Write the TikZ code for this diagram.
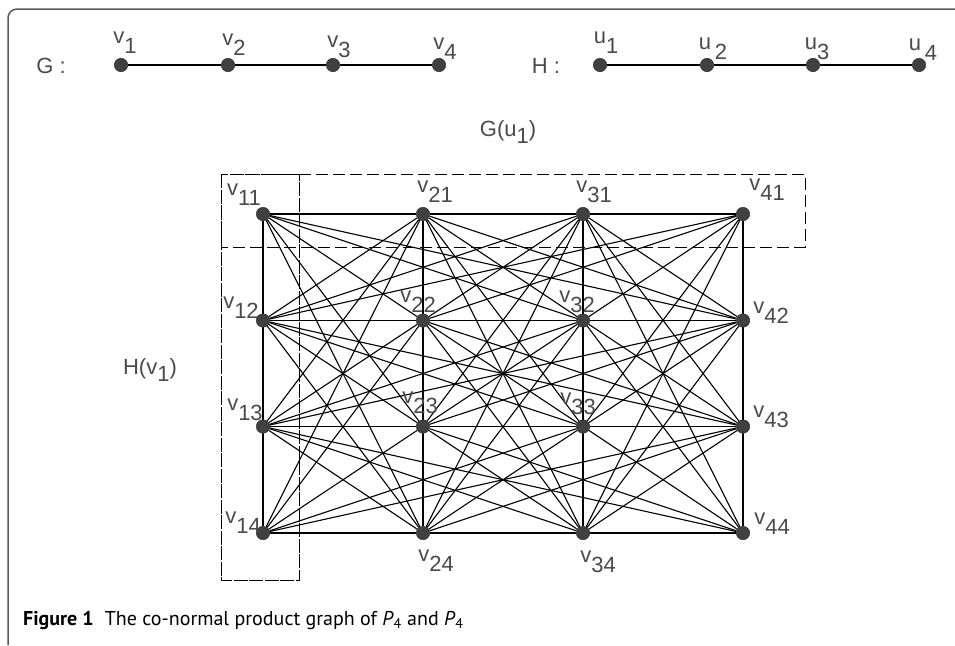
\documentclass[tikz,border=0pt]{standalone}
\usepackage{fontspec}
\setmainfont{Liberation Sans}
\newfontfamily\capfont{PT Sans}
\usetikzlibrary{backgrounds}
\definecolor{txt}{HTML}{4A4A4A}
\definecolor{dotc}{HTML}{404040}
\newcommand\sublbl[2]{#1\raisebox{-0.45em}{#2}}
\begin{document}
\begin{tikzpicture}[x=1pt,y=-1pt,
  vtx/.style={circle,fill=dotc,draw=black!85,line width=0.4pt,inner sep=0pt,minimum size=13.5pt},
  lbl/.style={text=txt,font=\fontsize{22}{26}\selectfont,inner sep=0pt},
  edge/.style={black,line width=1.1pt},
  frame/.style={black!65,line width=1.5pt,rounded corners=9pt},
  vbox/.style={black,line width=1pt,dash pattern=on 14pt off 1.5pt},
  hbox/.style={black,line width=1pt,dash pattern=on 12pt off 5pt}]
\useasboundingbox (0,0) rectangle (955,645);
\draw[frame] (8,645) -- (8,9) -- (955,9);

% paths G and H
\foreach \i/\x in {1/121,2/228,3/333,4/439} \node[vtx] (g\i) at (\x,65) {};
\foreach \i/\x in {1/600,2/707,3/813,4/919} \node[vtx] (h\i) at (\x,65) {};

% product vertices
\foreach \i/\x in {1/263,2/423,3/583,4/743}
  \foreach \j/\y in {1/214,2/320.5,3/426.5,4/533}
    \node[vtx] (v\i\j) at (\x,\y) {};

\begin{pgfonlayer}{background}
\draw[edge] (g1) -- (g2) -- (g3) -- (g4);
\draw[edge] (h1) -- (h2) -- (h3) -- (h4);
\foreach \i in {1,...,4}
 \foreach \j in {1,...,4}
  \foreach \k in {1,...,4}
   \foreach \l in {1,...,4}{
     \pgfmathtruncatemacro\ok{and(or(abs(\i-\k)==1,abs(\j-\l)==1),(10*\i+\j)<(10*\k+\l))}
     \ifnum\ok=1 \draw[edge] (v\i\j) -- (v\k\l);\fi
   }
\end{pgfonlayer}

% dashed boxes
\draw[vbox] (221,174) rectangle (299,580);
\draw[hbox] (221,174) rectangle (805,247);

% path labels
\node[lbl] (lG) at (51,66) {G :};
\node[lbl] (lH) at (546,66) {H :};
\node[lbl] (lg1) at (125,43) {\sublbl{v}{1}};
\node[lbl] (lg2) at (234,45) {\sublbl{v}{2}};
\node[lbl] (lg3) at (339,47) {\sublbl{v}{3}};
\node[lbl] (lg4) at (445,49) {\sublbl{v}{4}};
\node[lbl] (lh1) at (606,43) {\sublbl{u}{1}};
\node[lbl] (lh2) at (713,49) {\sublbl{u\,}{2}};
\node[lbl] (lh3) at (817,49) {\sublbl{u}{3}};
\node[lbl] (lh4) at (923,50) {\sublbl{u\,}{4}};
\node[lbl] (lGu) at (508,132) {G(u\raisebox{-0.35em}{1})};
\node[lbl] (lHv) at (150,370) {H(v\raisebox{-0.35em}{1})};

% product labels
\node[lbl] (l11) at (244,195) {\sublbl{v}{11}};
\node[lbl] (l21) at (435,192) {\sublbl{v}{21}};
\node[lbl] (l31) at (594,192) {\sublbl{v}{31}};
\node[lbl] (l41) at (767,190) {\sublbl{v}{41}};
\node[lbl] (l12) at (241,308) {\sublbl{v}{12}};
\node[lbl] (l22) at (418,302) {\sublbl{v}{22}};
\node[lbl] (l32) at (577,302) {\sublbl{v}{32}};
\node[lbl] (l42) at (771,313) {\sublbl{v}{42}};
\node[lbl] (l13) at (245,410) {\sublbl{v}{13}};
\node[lbl] (l23) at (420,403) {\sublbl{v}{23}};
\node[lbl] (l33) at (578,404) {\sublbl{v}{33}};
\node[lbl] (l43) at (771,417) {\sublbl{v}{43}};
\node[lbl] (l14) at (243,523) {\sublbl{v}{14}};
\node[lbl] (l24) at (436,561) {\sublbl{v}{24}};
\node[lbl] (l34) at (598,562) {\sublbl{v}{34}};
\node[lbl] (l44) at (772,524) {\sublbl{v}{44}};

% caption
\node[anchor=base west,inner sep=0pt,text=black,font=\capfont\fontsize{20}{23}\selectfont] (cap) at (23,625)
  {\textbf{Figure 1}\hspace{0.55em}The co-normal product graph of \textit{P}\textsubscript{4} and \textit{P}\textsubscript{4}};
\end{tikzpicture}
\end{document}
